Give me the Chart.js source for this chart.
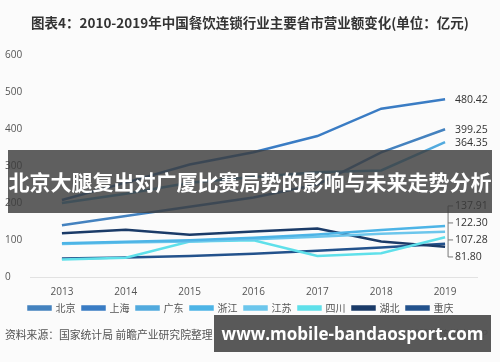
<!DOCTYPE html>
<html>
<head>
<meta charset="utf-8">
<script src="https://cdn.jsdelivr.net/npm/chart.js@4.4.1/dist/chart.umd.min.js"></script>
<style>
  html, body { margin: 0; padding: 0; background: #fbfbfb; }
  #wrap { position: relative; width: 500px; height: 362px; overflow: hidden; font-family: "Noto Sans CJK SC", "Open Sans", sans-serif; }
  #title { position: absolute; left: 0; top: 12px; width: 500px; text-align: center; font-size: 13.5px; font-weight: bold; color: #333; }
  #chartBox { position: absolute; left: 0; top: 0; width: 500px; height: 362px; }
  #source { position: absolute; left: 5px; top: 326px; font-size: 10.8px; color: #555; }
  #app { position: absolute; left: 400px; top: 326px; font-size: 10px; color: #555; }
  #banner { position: absolute; left: 8px; top: 150px; width: 484px; height: 63px; background: rgba(60,60,60,0.82);
            color: #fff; font-weight: bold; font-size: 21px; line-height: 63px; text-align: center; white-space: nowrap; }
  #site { position: absolute; left: 214px; top: 315px; width: 277px; height: 37px; background: rgba(80,80,80,0.95);
          color: #fff; font-weight: bold; font-size: 17px; line-height: 37px; text-align: center; font-family: "Open Sans", sans-serif; }
</style>
</head>
<body>
<div id="wrap">
  <div id="chartBox"><canvas id="myChart"></canvas></div>
  <div id="title">图表4：2010-2019年中国餐饮连锁行业主要省市营业额变化(单位：亿元)</div>
  <div id="source">资料来源：国家统计局 前瞻产业研究院整理</div>
  <div id="app">@前瞻经济学人APP</div>
  <div id="banner">北京大腿复出对广厦比赛局势的影响与未来走势分析</div>
  <div id="site">www.mobile-bandaosport.com</div>
</div>
<script>
// data (values under the banner are estimates)
const years = ['2013', '2014', '2015', '2016', '2017', '2018', '2019'];
const provinces = ['北京', '上海', '广东', '浙江', '江苏', '四川', '湖北', '重庆'];
const beijing   = [140, 165, 190, 215, 250, 337, 399.25];
const shanghai  = [208, 255, 304, 337, 381, 455, 480.42];
const guangdong = [200, 225, 255, 270, 283, 288, 364.35];
const zhejiang  = [91, 95, 99, 106, 115, 127, 137.91];
const jiangsu   = [89, 93, 96, 102, 109, 117, 122.30];
const sichuan   = [47, 52, 96, 99, 57, 64, 107.28];
const hubei     = [118, 128, 114, 123, 131, 96, 81.80];
const chongqing = [50, 53, 57, 63, 71, 80, 90];
const yTicks = [0, 100, 200, 300, 400, 500, 600];
// which series get an end label
const showEnd = [true, true, true, true, true, true, true, false];

const colors = ['#4482bf', '#3a7cc4', '#52aade', '#4db4e6', '#6cc6ec', '#5fe0ea', '#1b3b68', '#23528c'];
const series = [beijing, shanghai, guangdong, zhejiang, jiangsu, sichuan, hubei, chongqing];

// draws the values at the right end, with a bracket for the crowded ones
const endLabels = {
    id: 'endLabels',
    afterDatasetsDraw(chart) {
        const ctx = chart.ctx;
        const last = years.length - 1;
        let items = [];
        chart.data.datasets.forEach((ds, i) => {
            if (!showEnd[i]) return;
            const pt = chart.getDatasetMeta(i).data[last];
            items.push({ x: pt.x, y: pt.y, text: ds.data[last].toFixed(2), v: ds.data[last] });
        });
        const low = items.filter(it => it.v < 200).sort((a, b) => a.y - b.y);
        const high = items.filter(it => it.v >= 200);
        ctx.save();
        ctx.font = '10.5px "Open Sans", sans-serif';
        ctx.fillStyle = '#333';
        ctx.textBaseline = 'middle';
        high.forEach(it => ctx.fillText(it.text, it.x + 10, it.y + 0.5));
        if (low.length) {
            const mean = low.reduce((s, it) => s + it.y, 0) / low.length;
            const gap = 17;
            const center = mean - 4;
            const bx = low[0].x + 3;
            const ys = low.map((it, k) => center + (k - (low.length - 1) / 2) * gap);
            ctx.strokeStyle = '#777';
            ctx.lineWidth = 1;
            ctx.beginPath();
            ctx.moveTo(bx, ys[0]);
            ctx.lineTo(bx, ys[ys.length - 1]);
            ys.forEach(y => { ctx.moveTo(bx, y); ctx.lineTo(bx + 5, y); });
            ctx.stroke();
            low.forEach((it, k) => ctx.fillText(it.text, it.x + 10, ys[k]));
        }
        ctx.restore();
    }
};

const ctx = document.getElementById('myChart').getContext('2d');
new Chart(ctx, {
    type: 'line',
    data: {
        labels: years,
        datasets: series.map((d, i) => ({
            label: provinces[i],
            data: d,
            borderColor: colors[i],
            backgroundColor: colors[i],
            borderWidth: 2.5,
            pointRadius: 0,
            tension: 0
        }))
    },
    options: {
        responsive: true,
        maintainAspectRatio: false,
        animation: false,
        layout: { padding: { top: 55, left: 5, right: 23, bottom: 39 } },
        plugins: {
            title: { display: false },
            tooltip: { enabled: false },
            legend: {
                position: 'bottom',
                labels: {
                    boxWidth: 22,
                    boxHeight: 3,
                    padding: 7,
                    color: '#555',
                    font: { size: 10, family: '"Noto Sans CJK SC", sans-serif' }
                }
            }
        },
        scales: {
            x: {
                offset: true,
                grid: { display: false, drawTicks: false },
                border: { display: true, color: '#e2e2e2' },
                ticks: { color: '#555', padding: 9, font: { size: 10, family: '"Open Sans", sans-serif' } },
                afterFit: s => { s.height = 19; }
            },
            y: {
                min: 0,
                max: 600,
                afterBuildTicks: s => { s.ticks = yTicks.map(v => ({ value: v })); },
                grid: { display: false },
                border: { display: false },
                ticks: { color: '#555', crossAlign: 'far', font: { size: 10, family: '"Open Sans", sans-serif' } },
                afterFit: s => { s.width = 25; }
            }
        }
    },
    plugins: [endLabels]
});
</script>
</body>
</html>
